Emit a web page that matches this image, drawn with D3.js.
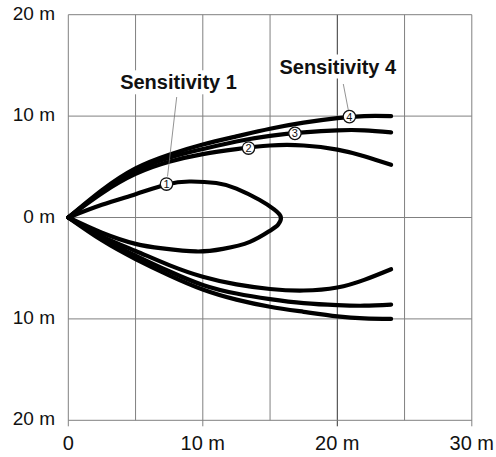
<!DOCTYPE html>
<html>
<head>
<meta charset="utf-8">
<script src="https://cdn.jsdelivr.net/npm/d3@7"></script>
<style>
  body { margin: 0; background: #fff; }
  svg text { font-family: "Liberation Sans", Arial, sans-serif; }
</style>
</head>
<body>
<svg id="chart" width="496" height="457"></svg>
<script>
// data (metres)
var xTicks = [0, 10, 20, 30];
var xTickLabels = ["0", "10 m", "20 m", "30 m"];
var yTicks = [20, 10, 0, -10, -20];
var yTickLabels = ["20 m", "10 m", "0 m", "10 m", "20 m"];
var xGrid = [0, 5, 10, 15, 20, 25, 30];

var sens1 = [[0,0],[2.5,1.25],[5,2.3],[7.3,3.25],[9,3.55],[11,3.4],[12.5,2.85],[14.2,1.75],[15.3,0.8],[15.8,0.05],
             [15.6,-0.7],[15,-1.3],[13.5,-2.4],[11.5,-3.1],[9.5,-3.35],[7,-3.05],[5,-2.6],[2.5,-1.5],[0,0]];
var sens2Up = [[0,0],[2.5,2.4],[5,4.3],[7.5,5.5],[10,6.25],[12.5,6.75],[15,7.1],[17.5,7.1],[20,6.7],[22,6.05],[24,5.2]];
var sens3Up = [[0,0],[2.5,2.55],[5,4.6],[7.5,5.9],[10,6.75],[12.5,7.5],[15,8.05],[17.5,8.4],[20,8.6],[22,8.6],[24,8.4]];
var sens4Up = [[0,0],[2.5,2.7],[5,4.85],[7.5,6.2],[10,7.2],[12.5,8.0],[15,8.75],[17.5,9.35],[20,9.8],[22,10.0],[24,10.0]];
var sens2Low = [[0,0],[2.5,-1.85],[5,-3.3],[7.5,-4.7],[10,-5.85],[12.5,-6.6],[15,-7.05],[17.5,-7.2],[20,-6.9],[22,-6.15],[24,-5.1]];
var sens3Low = [[0,0],[2.5,-2.05],[5,-3.75],[7.5,-5.3],[10,-6.65],[12.5,-7.5],[15,-8.05],[17.5,-8.45],[20,-8.65],[22,-8.7],[24,-8.6]];
var sens4Low = [[0,0],[2.5,-2.25],[5,-4.1],[7.5,-5.7],[10,-7.1],[12.5,-8.1],[15,-8.8],[17.5,-9.3],[20,-9.75],[22,-9.95],[24,-10.0]];

var markers = [
  {n: "1", x: 7.3, y: 3.3},
  {n: "2", x: 13.4, y: 6.85},
  {n: "3", x: 16.85, y: 8.3},
  {n: "4", x: 20.9, y: 9.95}
];

var svg = d3.select("#chart");
var x = d3.scaleLinear().domain([0, 30]).range([68.3, 471.8]);
var y = d3.scaleLinear().domain([-20, 20]).range([420.3, 14.7]);

// grid
var grid = svg.append("g");
grid.selectAll("line.v")
  .data(xGrid)
  .enter()
  .append("line")
  .attr("x1", function(d) { return x(d); })
  .attr("x2", function(d) { return x(d); })
  .attr("y1", y(20))
  .attr("y2", function(d) { return xTicks.indexOf(d) >= 0 ? y(-20) + 6 : y(-20); })
  .attr("stroke", function(d) { return d === 20 ? "#333" : "#808080"; })
  .attr("stroke-width", 1);
grid.selectAll("line.h")
  .data(yTicks)
  .enter()
  .append("line")
  .attr("x1", x(0))
  .attr("x2", x(30))
  .attr("y1", function(d) { return y(d); })
  .attr("y2", function(d) { return y(d); })
  .attr("stroke", "#808080")
  .attr("stroke-width", 1);

// tick labels
svg.append("g")
  .selectAll("text")
  .data(yTicks)
  .enter()
  .append("text")
  .attr("x", 55)
  .attr("y", function(d) { return y(d) + 5; })
  .attr("text-anchor", "end")
  .attr("font-size", 19)
  .attr("fill", "#111")
  .text(function(d, i) { return yTickLabels[i]; });
svg.append("g")
  .selectAll("text")
  .data(xTicks)
  .enter()
  .append("text")
  .attr("x", function(d) { return x(d); })
  .attr("y", 450)
  .attr("text-anchor", "middle")
  .attr("font-size", 20)
  .attr("fill", "#111")
  .text(function(d, i) { return xTickLabels[i]; });

// curves
var line = d3.line()
  .x(function(d) { return x(d[0]); })
  .y(function(d) { return y(d[1]); })
  .curve(d3.curveNatural);

svg.append("g")
  .selectAll("path")
  .data([sens1, sens2Up, sens3Up, sens4Up, sens2Low, sens3Low, sens4Low])
  .enter()
  .append("path")
  .attr("d", line)
  .attr("fill", "none")
  .attr("stroke", "#000")
  .attr("stroke-width", 4.2)
  .attr("stroke-linecap", "round")
  .attr("stroke-linejoin", "round");

// labels with white background
var labels = [
  {t: "Sensitivity 1", cx: 178.5, by: 89.3, lx1: 176.7, ly1: 97, lx2: 167.5, ly2: 176.5},
  {t: "Sensitivity 4", cx: 337.8, by: 73.5, lx1: 343.3, ly1: 84, lx2: 348.3, ly2: 110}
];
var lab = svg.append("g").selectAll("g").data(labels).enter().append("g");
lab.append("rect")
  .attr("x", function(d) { return d.cx - 62; })
  .attr("y", function(d) { return d.by - 19; })
  .attr("width", 124)
  .attr("height", 24)
  .attr("fill", "#fff");
lab.append("text")
  .attr("x", function(d) { return d.cx; })
  .attr("y", function(d) { return d.by; })
  .attr("text-anchor", "middle")
  .attr("font-size", 20)
  .attr("font-weight", "bold")
  .attr("fill", "#111")
  .text(function(d) { return d.t; });
lab.append("line")
  .attr("x1", function(d) { return d.lx1; })
  .attr("y1", function(d) { return d.ly1; })
  .attr("x2", function(d) { return d.lx2; })
  .attr("y2", function(d) { return d.ly2; })
  .attr("stroke", "#777")
  .attr("stroke-width", 0.8);

// numbered markers
var mk = svg.append("g").selectAll("g").data(markers).enter().append("g")
  .attr("transform", function(d) { return "translate(" + x(d.x) + "," + y(d.y) + ")"; });
mk.append("circle")
  .attr("r", 6.2)
  .attr("fill", "#fff")
  .attr("stroke", "#111")
  .attr("stroke-width", 1.3);
mk.append("text")
  .attr("y", 4)
  .attr("text-anchor", "middle")
  .attr("font-size", 11)
  .attr("fill", "#111")
  .text(function(d) { return d.n; });
</script>
</body>
</html>
